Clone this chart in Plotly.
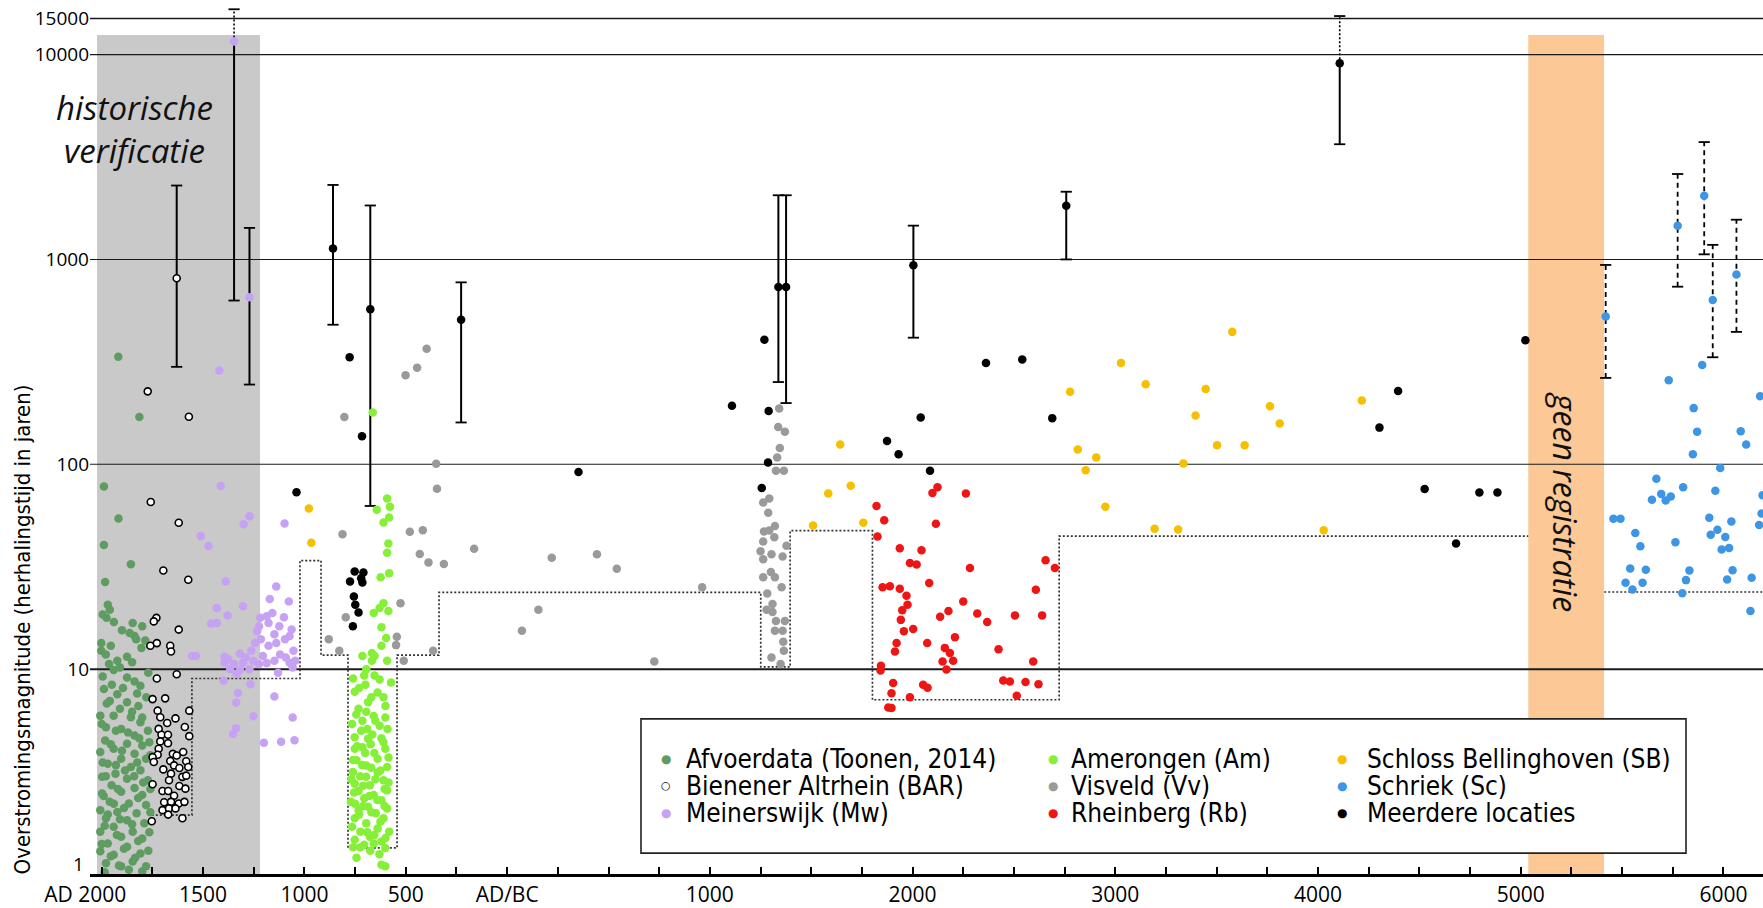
import plotly.graph_objects as go

# ---------------- axis definition ----------------
# x = years before AD 2000  (AD 2000 -> 0, AD/BC -> 2000, 1000 BC -> 3000 ... 6000 BC -> 8000)
# y = flood magnitude (return period in years, log scale)
x_tick_pos = [0, 500, 1000, 1500, 2000, 3000, 4000, 5000, 6000, 7000, 8000]
x_tick_lab = ["AD 2000" + "\u00a0" * 6, "1500", "1000", "500", "AD/BC", "1000", "2000", "3000", "4000", "5000", "6000"]
y_tick_pos = [10, 100, 1000, 10000, 15000]
y_tick_lab = ["10", "100", "1000", "10000", "15000"]
y_base_label = "1"

# ---------------- data ----------------
afvoer_t = [82, 186, 11, 83, 11, 144, 17, 30, 40, 24, 153, 200, 138, 162, -2, 45, 196, 125, 77, -2,
            36, 59, 125, 162, 191, 11, 77, 40, 125, 181, -7, 59, 144, 191, 21, 96, 228, 162, 17, 125,
            200, 59, -7, 162, 96, 219, 30, 144, 191, 68, 2, 125, 228, 49, 162, 96, 2, 200, 40, 134,
            219, -7, 77, 172, 21, 125, 210, 59, -7, 153, 96, 200, 30, 125, -7, 59, 191, 153, 21, 96, 219, 134,
            5, 60, 100, 170, 215, 20, 90, 150, 230, 5, 50, 105, 175, 220, 25, 90, 150, 200, 0, 70,
            130, 185, 235, 45, 100, 240, 5, 70, 175, 115, 20, 160, 205, 80, 240, 10, 180, 60, 110, 240,
            30, 90, 150, 15, 235, 75, 180, 0, 110, 230, 45, 165, 85, 15, 200]
afvoer_v = [335, 170, 78, 54.3, 40.4, 32.5, 26.6, 20.6, 19.5, 17.8, 16.8, 16.2, 15.0, 14.5, 13.4, 13.0, 12.7, 11.5, 11.0, 12.3,
            10.6, 9.9, 9.1, 8.7, 8.3, 8.0, 7.55, 7.0, 6.9, 6.6, 5.93, 5.93, 5.82, 5.5, 5.2, 5.11, 5.01, 4.74, 4.49, 4.32,
            4.24, 4.09, 3.94, 3.86, 3.65, 3.65, 3.45, 3.33, 3.21, 3.09, 2.98, 2.92, 2.87, 2.71, 2.63, 2.52, 2.47, 2.43, 2.25, 2.21,
            2.17, 2.05, 2.01, 1.98, 1.87, 1.83, 1.77, 1.70, 1.61, 1.61, 1.52, 1.49, 1.41, 1.36, 1.29, 1.24, 1.26, 1.15, 1.13, 1.09, 1.09, 1.05,
            18.5, 17, 15.5, 14, 13.8, 11.8, 10.2, 10.8, 9.6, 9.2, 8.4, 8.1, 7.6, 7.3, 6.8, 6.4, 6.2, 5.8, 5.4, 5.0,
            4.9, 4.6, 4.4, 4.3, 4.0, 3.8, 3.5, 3.4, 3.5, 3.2, 3.0, 3.0, 2.8, 2.6, 2.6, 2.4, 2.35, 2.2, 2.1, 2.0,
            1.95, 1.85, 1.75, 1.72, 1.6, 1.55, 1.45, 1.4, 1.33, 1.3, 1.22, 1.2, 1.1, 1.02, 1.03]

bar_t = [227, 430, 242, 380, 304, 427, 270, 257, 380, 240, 272, 338, 342, 370, 272, 251, 313, 432, 276, 289,
         364, 323, 281, 410, 432, 295, 327, 289, 327, 281, 276, 251, 257, 351, 402, 338, 370, 417, 357, 383,
         427, 304, 342, 398, 417, 251, 383, 413, 300, 328, 357, 308, 342, 380, 408, 300, 332, 364, 328, 398,
         247, 332, 370]
bar_v = [227, 170.5, 65.5, 51.8, 30.3, 27.3, 17.8, 17.1, 15.6, 13.0, 13.4, 13.0, 12.2, 9.44, 9.0, 7.14, 7.2, 6.27, 6.27, 5.82,
         5.75, 5.46, 5.11, 5.22, 4.71, 4.78, 4.78, 4.44, 4.35, 4.09, 3.82, 3.72, 3.52, 3.86, 3.94, 3.56, 3.79, 3.55, 3.39, 3.29,
         3.33, 3.24, 3.09, 2.98, 3.02, 2.74, 2.69, 2.61, 2.54, 2.54, 2.41, 2.24, 2.25, 2.21, 2.25, 2.05, 2.09, 2.09, 1.95, 1.87,
         1.81, 2.87, 809]

mein_t = [580, 653, 729, 587, 729, 700, 902, 489, 527, 612, 861, 829, 923, 568, 697, 621, 782, 842, 899, 540,
          568, 776, 823, 876, 767, 852, 927, 757, 823, 904, 446, 465, 606, 682, 738, 795, 880, 946, 606, 653,
          697, 748, 814, 927, 634, 682, 729, 870, 942, 602, 666, 734, 672, 852, 663, 748, 942, 663, 648, 800,
          885, 951, 624, 710, 776, 852, 908, 955, 785, 861, 937, 814]
mein_v = [287, 11590, 654, 78.3, 55.8, 51.0, 51.4, 44.6, 39.9, 26.8, 25.3, 22.0, 21.4, 19.9, 20.3, 18.3, 17.8, 18.8, 17.9, 16.7,
          16.8, 16.2, 16.8, 16.2, 15.3, 14.8, 14.5, 13.4, 13.0, 14.0, 11.6, 11.6, 11.5, 11.9, 12.3, 11.6, 11.8, 12.3, 10.76, 10.6,
          10.76, 10.96, 10.7, 10.76, 10.0, 9.9, 10.0, 9.6, 10.2, 8.77, 9.5, 8.44, 7.64, 7.36, 6.88, 5.89, 5.80, 5.14, 4.83, 4.37,
          4.42, 4.50, 11.2, 11.4, 10.6, 11.0, 11.4, 11.0, 14.0, 13.4, 15.6, 18.1]

amer_t = [1408, 1422, 1357, 1418, 1390, 1414, 1408, 1418, 1376, 1390, 1371, 1342, 1414, 1403, 1380, 1333, 1380, 1346, 1286, 1333,
          1408, 1305, 1295, 1346, 1371, 1427, 1301, 1248, 1361, 1314, 1267, 1390, 1342, 1286, 1399, 1371, 1310, 1248, 1314, 1380,
          1327, 1286, 1248, 1399, 1361, 1257, 1305, 1408, 1239, 1361, 1305, 1390, 1248, 1323, 1267, 1408, 1342, 1295, 1380, 1229,
          1314, 1267, 1408, 1352, 1248, 1390, 1305, 1361, 1276, 1418, 1323, 1248, 1380, 1342, 1295, 1399, 1257, 1399, 1380, 1337,
          1240, 1270, 1330, 1400, 1256, 1305, 1350, 1410, 1235, 1280, 1335, 1390, 1260, 1300, 1345, 1415, 1240, 1285, 1330, 1375,
          1275, 1350, 1232, 1415, 1290, 1395, 1245, 1320, 1360, 1250, 1290, 1395, 1330, 1270, 1375, 1235, 1310, 1345, 1400, 1275,
          1325, 1370, 1240]
amer_v = [68, 62, 60, 55, 52, 41, 37, 29.4, 28.1, 21, 19.9, 18.8, 19.2, 14.2, 16.0, 12, 13, 11.6, 11.6, 11,
          11, 10, 9.3, 9.3, 8.9, 8.6, 8.4, 7.75, 7.7, 6.9, 6.4, 7.3, 5.9, 5.6, 5.8, 5.3, 5.1, 4.65, 4.57, 4.6,
          4.3, 4.16, 4.09, 4.09, 3.65, 3.59, 3.39, 3.33, 3.15, 3.13, 2.98, 2.87, 2.76, 2.71, 2.54, 2.56, 2.43, 2.34, 2.29, 2.25,
          2.13, 2.05, 2.09, 1.98, 1.87, 1.87, 1.77, 1.67, 1.61, 1.61, 1.52, 1.47, 1.44, 1.41, 1.39, 1.34, 1.2, 1.09, 1.11, 179,
          9.0, 8.1, 7.3, 6.6, 6.0, 6.2, 5.6, 5.1, 5.4, 5.0, 4.8, 4.4, 4.2, 3.9, 3.9, 3.7, 3.6, 3.4, 3.3, 3.2,
          3.0, 2.9, 2.9, 2.8, 2.7, 2.6, 2.5, 2.4, 2.3, 2.2, 2.15, 2.15, 2.0, 1.95, 1.8, 1.7, 1.6, 1.55, 1.5, 1.35,
          1.3, 1.25, 1.35]

vis_t = [1197, 1499, 1556, 1603, 1650, 1654, 1188, 1520, 1584, 1569, 1612, 1688, 1837, 2220, 2443, 2541, 1474, 2154, 2073, 1204,
         1120, 1172, 1456, 1452, 1635, 1490, 2726, 2962,
         3342, 3337, 3370, 3345, 3332, 3326, 3365, 3293, 3263, 3288, 3321, 3267, 3293, 3318, 3263, 3378, 3250, 3304, 3263, 3359,
         3263, 3301, 3321, 3354, 3283, 3309, 3280, 3309, 3326, 3370, 3321, 3359, 3362, 3365, 3304, 3349]
vis_v = [170, 272, 296, 366, 100.5, 76, 45.6, 46.8, 47.7, 36.5, 33.2, 32.6, 38.7, 35.0, 36.4, 30.9, 21.0, 19.5, 15.4, 17.9,
         14.0, 12.3, 14.4, 13.1, 12.3, 11.0, 10.9, 25.1,
         187, 152, 144, 120, 108, 93, 93, 68, 65, 58, 50, 47, 47.5, 44, 42, 40, 37.6, 36.4, 34.4, 35.5,
         28.1, 29.8, 28.1, 25.1, 23.4, 20.8, 19.5, 19.0, 17.2, 17.2, 15.4, 15.4, 13.6, 12.3, 11.4, 10.6]

rhein_t = [3822, 3860, 3827, 3937, 4044, 3987, 4020, 3852, 3888, 3937, 3970, 3975, 3949, 3942, 3957, 4003, 3921, 3913, 3844, 3842,
           3904, 3896, 3987, 3880, 3896, 4052, 4074, 4072, 4082, 4098, 4123, 4115, 4263, 4283, 4250, 4136, 4177, 4209, 4159, 4184,
           4200, 4148, 4167, 4319, 4368, 4424, 4447, 4480, 4505, 4557, 4514, 4595, 4621, 4608, 4639, 4656, 4702]
rhein_v = [62.5, 53.3, 44.4, 38.9, 38.1, 33.0, 32.4, 25.1, 25.4, 24.7, 22.8, 20.6, 19.4, 17.4, 15.3, 15.7, 13.4, 12.2, 10.4, 9.86,
           8.55, 7.63, 7.29, 6.50, 6.47, 8.40, 8.12, 13.4, 26.3, 72.5, 77.2, 51.2, 72.1, 31.2, 21.4, 18.0, 19.2, 14.3, 12.7, 12.0,
           11.0, 10.9, 9.97, 18.7, 17.0, 12.5, 8.80, 8.70, 18.3, 8.65, 7.41, 10.9, 8.45, 24.4, 18.3, 34.0, 31.2]

schloss_t = [1022, 1034, 3643, 3584, 3695, 3509, 3757, 4777, 5028, 5150, 4815, 4906, 4854, 4951, 5194, 5577, 5446, 5396, 5763, 5811,
             5502, 5638, 5336, 5310, 6028, 6216]
schloss_v = [60.8, 41.4, 125, 72, 78.5, 50.3, 51.8, 226, 312, 246, 118, 108, 93.5, 62.1, 48.4, 443, 233, 173, 192, 158,
             124, 124, 101, 48.1, 47.6, 205]

schriek_t = [7419, 7774, 7905, 7947, 8064, 7895, 7730, 8181, 7853, 7870, 8085, 8112, 7849, 7984, 7669, 7693, 7740, 7647, 7715, 7801,
             7960, 7457, 7492, 7930, 8039, 7970, 7565, 7937, 8009, 7763, 7590, 7991, 8028, 8176, 7540, 7617, 7832, 8045, 7517, 7551,
             7601, 7815, 8018, 8139, 7797, 8133, 8193, 8188]
schriek_v = [527, 1459, 2047, 634, 844, 305, 257, 215, 188, 144, 145, 125, 112, 95.8, 85, 71.7, 69.6, 67.2, 66.5, 77.3,
             74.2, 54.2, 54.2, 54.8, 52.6, 47.9, 46.2, 45.3, 44.2, 41.6, 39.8, 38.4, 39.0, 50.6, 31.0, 30.6, 30.3, 30.4, 26.4, 24.5,
             26.4, 27.2, 27.4, 27.9, 23.5, 19.2, 70.6, 57.5]

meer_t = [1141, 1325, 1773, 3338, 3376, 4004, 4758, 6107, 1223, 1284, 961, 2352, 1248, 1291, 1225, 1286, 1280, 1244, 1251, 1267,
          1239, 3269, 3109, 3290, 3287, 3256, 3874, 3931, 4040, 4086, 4362, 4541, 4689, 6395, 6303, 7023, 6526, 6796, 6885, 6681]
meer_v = [1130, 572, 508, 733, 733, 937, 1827, 9060, 333, 137, 73, 91.6, 30.0, 29.6, 26.8, 26.5, 27.8, 22.6, 20.6, 18.9,
          16.2, 405, 193, 182, 102, 76.7, 130, 112, 169, 93, 312, 325, 168, 228, 151, 403, 75.7, 72.8, 72.8, 41]

# uncertainty ranges (error bars)
eb_t = [370, 653, 729, 1141, 1325, 1773, 3338, 3376, 4004, 4758, 6107, 7419, 7774, 7905, 7947, 8064]
eb_v = [809, 11590, 654, 1130, 572, 508, 733, 733, 937, 1827, 9060, 527, 1459, 2047, 634, 844]
eb_lo = [299, 630, 245, 480, 62.6, 160, 252, 199, 415, 1000, 3650, 264, 736, 1059, 333, 443]
eb_hi = [2295, 16640, 1425, 2310, 1834, 773, 2057, 2057, 1462, 2140, 15420, 940, 2612, 3740, 1178, 1563]
eb_style = ["solid", "mixed", "solid", "solid", "solid", "solid", "solid", "solid", "solid", "solid", "mixed",
            "dash", "dash", "dash", "dash", "dash"]

# detection threshold (dotted step line)
thr1_t = [247, 445, 445, 978, 978, 1082, 1082, 1215, 1215, 1457, 1457, 1664, 1664, 3251, 3251, 3396, 3396, 3802, 3802, 4723, 4723, 7037]
thr1_v = [1.94, 1.94, 9.0, 9.0, 33.9, 33.9, 11.7, 11.7, 1.34, 1.34, 11.7, 11.7, 23.7, 23.7, 10.25, 10.25, 47.4, 47.4, 7.09, 7.09, 44.6, 44.6]
thr2_t = [7412, 8300]
thr2_v = [23.8, 23.8]

# shaded periods
hist_band = [-23, 781]
nogap_band = [7037, 7411]

# ---------------- layout constants ----------------
W, H = 1763, 908
ML, MB = 90, 29
X_RANGE = [-57.7, 8195]
Y_TOP_LOG = 4.2664
PW, PH = W - ML, H - MB


def px(xp):
    return (xp - ML) / PW


def py(yp):
    return (PH - yp) / PH


COL = dict(afvoer="#5f9c62", amer="#86ef38", schloss="#f5c000", mein="#c7a2f4",
           vis="#9a9a9a", schriek="#3d95e6", rhein="#ee1515", meer="#000000")

fig = go.Figure()

# horizontal reference lines
for gv, gw in [(15000, 1.3), (10000, 1.3), (1000, 1.1), (100, 1.1), (10, 2.0)]:
    fig.add_trace(go.Scatter(x=X_RANGE, y=[gv, gv], mode="lines", line=dict(color="#1a1a1a", width=gw),
                             hoverinfo="skip", showlegend=False))

# threshold step lines
for tt, vv in [(thr1_t, thr1_v), (thr2_t, thr2_v)]:
    fig.add_trace(go.Scatter(x=tt, y=vv, mode="lines", line=dict(color="#333", width=1.7, dash="2px,2px"),
                             hoverinfo="skip", showlegend=False))

# error bars
solid_x, solid_y, dot_x, dot_y, dash_x, dash_y = [], [], [], [], [], []
for t, v, lo, hi, st in zip(eb_t, eb_v, eb_lo, eb_hi, eb_style):
    if st == "solid":
        solid_x += [t, t, None]; solid_y += [lo, hi, None]
    elif st == "mixed":
        solid_x += [t, t, None]; solid_y += [lo, v, None]
        dot_x += [t, t, None]; dot_y += [v, hi, None]
    else:
        dash_x += [t, t, None]; dash_y += [lo, hi, None]
fig.add_trace(go.Scatter(x=solid_x, y=solid_y, mode="lines", line=dict(color="black", width=2), hoverinfo="skip", showlegend=False))
fig.add_trace(go.Scatter(x=dot_x, y=dot_y, mode="lines", line=dict(color="black", width=1.6, dash="2px,2px"), hoverinfo="skip", showlegend=False))
fig.add_trace(go.Scatter(x=dash_x, y=dash_y, mode="lines", line=dict(color="black", width=1.8, dash="5px,4px"), hoverinfo="skip", showlegend=False))
fig.add_trace(go.Scatter(x=eb_t + eb_t, y=eb_lo + eb_hi, mode="markers",
                         marker=dict(symbol="line-ew", size=8, line=dict(color="black", width=1.8)),
                         hoverinfo="skip", showlegend=False))

# data series
MS = 8.5
series = [
    (afvoer_t, afvoer_v, COL["afvoer"]),
    (mein_t, mein_v, COL["mein"]),
    (amer_t, amer_v, COL["amer"]),
    (vis_t, vis_v, COL["vis"]),
    (rhein_t, rhein_v, COL["rhein"]),
    (schloss_t, schloss_v, COL["schloss"]),
    (schriek_t, schriek_v, COL["schriek"]),
    (meer_t, meer_v, COL["meer"]),
]
for tt, vv, cc in series:
    fig.add_trace(go.Scatter(x=tt, y=vv, mode="markers", marker=dict(size=MS, color=cc, line=dict(width=0)),
                             showlegend=False, cliponaxis=False))
fig.add_trace(go.Scatter(x=bar_t, y=bar_v, mode="markers",
                         marker=dict(size=7, color="white", line=dict(color="black", width=1.6)),
                         showlegend=False, cliponaxis=False))

shapes = [
    dict(type="rect", xref="x", yref="paper", x0=hist_band[0], x1=hist_band[1], y0=0, y1=0.96,
         fillcolor="#c9c9c9", line=dict(width=0), layer="below"),
    dict(type="rect", xref="x", yref="paper", x0=nogap_band[0], x1=nogap_band[1], y0=0, y1=0.96,
         fillcolor="#fbc896", line=dict(width=0), layer="below"),
    dict(type="rect", xref="paper", yref="paper", x0=px(641), x1=px(1686), y0=py(858), y1=py(723),
         fillcolor="white", line=dict(color="#222", width=1.6), layer="above"),
]

NARROW = "Liberation Sans Narrow, Arial Narrow, DejaVu Sans Condensed, sans-serif"
ann = []
legend_items = [
    (666, 684, 763, COL["afvoer"], "Afvoerdata (Toonen, 2014)", False),
    (666, 684, 790, "black", "Bienener Altrhein (BAR)", True),
    (666, 684, 818, COL["mein"], "Meinerswijk (Mw)", False),
    (1053, 1069, 763, COL["amer"], "Amerongen (Am)", False),
    (1053, 1069, 790, COL["vis"], "Visveld (Vv)", False),
    (1053, 1069, 818, COL["rhein"], "Rheinberg (Rb)", False),
    (1342, 1365, 763, COL["schloss"], "Schloss Bellinghoven (SB)", False),
    (1342, 1365, 790, COL["schriek"], "Schriek (Sc)", False),
    (1342, 1365, 818, COL["meer"], "Meerdere locaties", False),
]
for mx, tx, ty, cc, label, hollow in legend_items:
    ann.append(dict(xref="paper", yref="paper", x=px(mx), y=py(ty), text="○" if hollow else "●",
                    showarrow=False, font=dict(size=11 if hollow else 12, color=cc, family="DejaVu Sans"),
                    xanchor="center", yanchor="middle"))
    ann.append(dict(xref="paper", yref="paper", x=px(tx), y=py(ty), text=label, showarrow=False,
                    font=dict(size=26, color="black", family=NARROW), xanchor="left", yanchor="middle"))

# base tick label of the y axis (kept clear of the x tick label below it)
ann.append(dict(xref="paper", yref="paper", x=px(86), y=py(869), text=y_base_label, showarrow=False,
                font=dict(size=19, color="black", family="Open Sans"), xanchor="right", yanchor="middle"))

ann.append(dict(xref="paper", yref="paper", x=px(22), y=py(633), text="Overstromingsmagnitude (herhalingstijd in jaren)",
                textangle=-90, showarrow=False, font=dict(size=22, color="black", family=NARROW),
                xanchor="center", yanchor="middle"))
ann.append(dict(xref="paper", yref="paper", x=px(134), y=py(130), text="<i>historische<br>verificatie</i>", showarrow=False,
                font=dict(size=33, color="#111", family="Open Sans"), xanchor="center", yanchor="middle"))
ann.append(dict(xref="x", yref="paper", x=(nogap_band[0] + nogap_band[1]) / 2, y=py(505), text="<i>geen registratie</i>",
                textangle=90, showarrow=False, font=dict(size=32, color="#111", family="Open Sans"),
                xanchor="center", yanchor="middle"))

all_ticks = list(range(0, 8001, 250))
all_text = [x_tick_lab[x_tick_pos.index(t)] if t in x_tick_pos else "" for t in all_ticks]

fig.update_layout(
    width=W, height=H, margin=dict(l=ML, r=0, t=0, b=MB),
    plot_bgcolor="white", paper_bgcolor="white", showlegend=False,
    font=dict(family="Open Sans", color="black"),
    shapes=shapes, annotations=ann,
)
fig.update_xaxes(range=X_RANGE, tickmode="array", tickvals=all_ticks, ticktext=all_text,
                 ticks="inside", ticklen=7, tickwidth=2, tickcolor="black",
                 showline=True, linewidth=2.5, linecolor="black", showgrid=False, zeroline=False,
                 tickfont=dict(size=21, color="black", family="Open Sans"))
fig.update_yaxes(type="log", range=[0, Y_TOP_LOG], tickmode="array", tickvals=y_tick_pos, ticktext=y_tick_lab,
                 ticks="", showgrid=False, zeroline=False, showline=False,
                 tickfont=dict(size=19, color="black", family="Open Sans"))

fig.write_html("out.html")
